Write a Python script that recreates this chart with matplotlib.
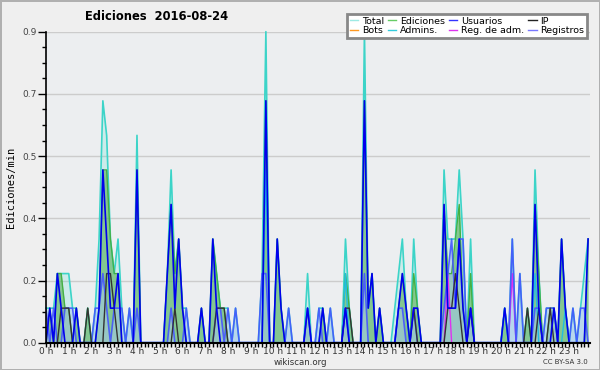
import matplotlib.pyplot as plt
import numpy as np
from matplotlib.lines import Line2D
from matplotlib.ticker import MultipleLocator

# edits per minute, one value every 10 minutes (6 per hour, one row per hour)
total = [
    0.1, 0.1, 0.1, 0.2, 0.2, 0.2,
    0.2, 0.1, 0.1, 0, 0, 0.1,
    0, 0.1, 0.3, 0.7, 0.6, 0.3,
    0.2, 0.3, 0.1, 0, 0.1, 0,
    0.6, 0, 0, 0, 0, 0,
    0, 0, 0.2, 0.5, 0.2, 0.3,
    0.1, 0.1, 0, 0, 0, 0.1,
    0, 0, 0.3, 0.2, 0.1, 0.1,
    0.1, 0, 0.1, 0, 0, 0,
    0, 0, 0, 0.2, 0.9, 0,
    0, 0.3, 0.1, 0, 0.1, 0,
    0, 0, 0, 0.2, 0, 0,
    0.1, 0.1, 0, 0.1, 0, 0,
    0, 0.3, 0.1, 0, 0, 0,
    0.9, 0.1, 0.2, 0, 0.1, 0,
    0, 0, 0.1, 0.2, 0.3, 0.1,
    0, 0.3, 0.1, 0, 0, 0,
    0, 0, 0, 0.5, 0.3, 0.3,
    0.3, 0.5, 0.3, 0, 0.3, 0,
    0, 0, 0, 0, 0, 0,
    0, 0.1, 0, 0.3, 0, 0.2,
    0, 0.1, 0, 0.5, 0.2, 0,
    0.1, 0.1, 0.1, 0, 0.3, 0.1,
    0, 0.1, 0, 0.1, 0.2, 0.3,
]
ediciones = [
    0, 0.1, 0, 0.2, 0.2, 0.1,
    0.1, 0, 0.1, 0, 0, 0.1,
    0, 0, 0.1, 0.5, 0.5, 0.3,
    0.2, 0.2, 0, 0, 0, 0,
    0.5, 0, 0, 0, 0, 0,
    0, 0, 0.2, 0.4, 0.2, 0.3,
    0.1, 0, 0, 0, 0, 0.1,
    0, 0, 0.3, 0.2, 0.1, 0.1,
    0, 0, 0, 0, 0, 0,
    0, 0, 0, 0, 0.7, 0,
    0, 0.3, 0.1, 0, 0, 0,
    0, 0, 0, 0.1, 0, 0,
    0, 0.1, 0, 0, 0, 0,
    0, 0.2, 0.1, 0, 0, 0,
    0.7, 0.1, 0.2, 0, 0.1, 0,
    0, 0, 0, 0.1, 0.2, 0.1,
    0, 0.2, 0.1, 0, 0, 0,
    0, 0, 0, 0.4, 0.2, 0.2,
    0.3, 0.4, 0.1, 0, 0.2, 0,
    0, 0, 0, 0, 0, 0,
    0, 0.1, 0, 0, 0, 0,
    0, 0.1, 0, 0.4, 0.2, 0,
    0, 0.1, 0.1, 0, 0.3, 0.1,
    0, 0, 0, 0, 0, 0.3,
]
usuarios = [
    0, 0.1, 0, 0.2, 0.1, 0,
    0, 0, 0.1, 0, 0, 0,
    0, 0, 0.1, 0.5, 0.3, 0.1,
    0.1, 0.2, 0, 0, 0, 0,
    0.5, 0, 0, 0, 0, 0,
    0, 0, 0.2, 0.4, 0.1, 0.3,
    0.1, 0, 0, 0, 0, 0.1,
    0, 0, 0.3, 0.1, 0, 0,
    0, 0, 0, 0, 0, 0,
    0, 0, 0, 0, 0.7, 0,
    0, 0.3, 0.1, 0, 0, 0,
    0, 0, 0, 0.1, 0, 0,
    0, 0.1, 0, 0, 0, 0,
    0, 0.1, 0, 0, 0, 0,
    0.7, 0.1, 0.2, 0, 0.1, 0,
    0, 0, 0, 0.1, 0.2, 0.1,
    0, 0.1, 0.1, 0, 0, 0,
    0, 0, 0, 0.4, 0.1, 0.1,
    0.1, 0.3, 0.1, 0, 0.1, 0,
    0, 0, 0, 0, 0, 0,
    0, 0.1, 0, 0, 0, 0,
    0, 0, 0, 0.4, 0.1, 0,
    0, 0, 0.1, 0, 0.3, 0.1,
    0, 0, 0, 0, 0, 0.3,
]
ip = [
    0, 0, 0, 0, 0.1, 0.1,
    0.1, 0, 0, 0, 0, 0.1,
    0, 0, 0, 0, 0.2, 0.2,
    0.1, 0, 0, 0, 0, 0,
    0, 0, 0, 0, 0, 0,
    0, 0, 0, 0, 0.1, 0,
    0, 0, 0, 0, 0, 0,
    0, 0, 0, 0.1, 0.1, 0.1,
    0, 0, 0, 0, 0, 0,
    0, 0, 0, 0, 0, 0,
    0, 0, 0, 0, 0, 0,
    0, 0, 0, 0, 0, 0,
    0, 0, 0, 0, 0, 0,
    0, 0.1, 0.1, 0, 0, 0,
    0, 0, 0, 0, 0, 0,
    0, 0, 0, 0, 0, 0,
    0, 0.1, 0, 0, 0, 0,
    0, 0, 0, 0, 0.1, 0.1,
    0.2, 0.1, 0, 0, 0.1, 0,
    0, 0, 0, 0, 0, 0,
    0, 0, 0, 0, 0, 0,
    0, 0.1, 0, 0, 0.1, 0,
    0, 0.1, 0, 0, 0, 0,
    0, 0, 0, 0, 0, 0,
]
registros = [
    0.1, 0, 0.1, 0, 0, 0.1,
    0.1, 0.1, 0, 0, 0, 0,
    0, 0.1, 0.1, 0.2, 0.1, 0,
    0.1, 0.1, 0.1, 0, 0.1, 0,
    0.1, 0, 0, 0, 0, 0,
    0, 0, 0, 0.1, 0, 0,
    0, 0.1, 0, 0, 0, 0,
    0, 0, 0, 0.1, 0.1, 0,
    0.1, 0, 0.1, 0, 0, 0,
    0, 0, 0, 0.2, 0.2, 0,
    0, 0, 0, 0, 0.1, 0,
    0, 0, 0, 0.1, 0, 0,
    0.1, 0, 0, 0.1, 0, 0,
    0, 0.1, 0, 0, 0, 0,
    0.2, 0, 0, 0, 0, 0,
    0, 0, 0, 0.1, 0.1, 0,
    0, 0.1, 0, 0, 0, 0,
    0, 0, 0, 0.1, 0.2, 0.3,
    0.1, 0.3, 0.3, 0, 0.1, 0,
    0, 0, 0, 0, 0, 0,
    0, 0, 0, 0.3, 0, 0.2,
    0, 0, 0, 0.1, 0.1, 0,
    0.1, 0.1, 0.1, 0, 0, 0,
    0, 0.1, 0, 0.1, 0.1, 0,
]
# sparse series: {slot index: value}
admins = {58: 0.5, 79: 0.2, 121: 0.1, 129: 0.2, 137: 0.1}
reg_adm = {106: 0.2, 123: 0.2}
bots = {}

hour_labels = ['%d h' % h for h in range(24)]
y_ticks = [0, 0.18, 0.36, 0.54, 0.72, 0.9]
y_labels = ['0.0', '0.2', '0.4', '0.5', '0.7', '0.9']

x = np.arange(len(total)) / 6.0


def sparse(d):
    v = np.zeros(len(total))
    for k, val in d.items():
        v[k] = val
    return v


fig = plt.figure(figsize=(6, 3.7), dpi=100, facecolor='#efefef')
fig.patch.set_edgecolor('#b0b0b0')
fig.patch.set_linewidth(2)
ax = fig.add_axes([46 / 600, 27.3 / 370, 544 / 600, 311 / 370], facecolor='#eceef0')

for t in y_ticks:
    ax.axhline(t, color='#cccccc', lw=1, zorder=0)

ax.fill_between(x, total, color='#40e0d0', alpha=0.18, lw=0, zorder=1)
ax.fill_between(x, ediciones, color='#55b055', alpha=0.6, lw=0, zorder=2)
ax.fill_between(x, registros, color='#a8c8ee', alpha=0.55, lw=0, zorder=2)

ax.plot(x, total, color='#3cd4c8', lw=1.2, zorder=3, clip_on=False)
ax.plot(x, ediciones, color='#44b044', lw=1, zorder=3)
ax.plot(x, sparse(bots), color='#ff9922', lw=1, zorder=3)
ax.plot(x, sparse(admins), color='#22bde0', lw=1, zorder=4)
ax.plot(x, sparse(reg_adm), color='#e030f0', lw=1, zorder=4)
ax.plot(x, registros, color='#4455ff', lw=1.2, alpha=0.9, zorder=4)
ax.plot(x, ip, color='#333333', lw=1, zorder=5)
ax.plot(x, usuarios, color='#0000ee', lw=1.2, zorder=6)

ax.set_xlim(0, 143.5 / 6)
ax.set_ylim(0, 0.9)
for s in ['top', 'right']:
    ax.spines[s].set_visible(False)
ax.spines['left'].set_linewidth(1.2)
ax.spines['bottom'].set_linewidth(1.5)
ax.spines['left'].set_zorder(10)
ax.spines['bottom'].set_zorder(10)

ax.set_xticks(range(24))
ax.set_xticklabels(hour_labels, fontsize=6.5, color='#333333')
ax.xaxis.set_minor_locator(MultipleLocator(1 / 6))
ax.set_yticks(y_ticks)
ax.set_yticklabels(y_labels, fontsize=6.5, color='#444444')
ax.yaxis.set_minor_locator(MultipleLocator(0.045))
ax.tick_params(axis='x', which='major', length=3, width=1, pad=0)
ax.tick_params(axis='x', which='minor', length=3, width=1)
ax.tick_params(axis='y', which='major', length=6, width=1, pad=1)
ax.tick_params(axis='y', which='minor', length=3, width=1)

ax.set_ylabel('Ediciones/min', fontsize=7.5, family='DejaVu Sans Mono', labelpad=4)

fig.text(85 / 600, 1 - 17 / 370, 'Ediciones  2016-08-24', fontsize=8.3,
         fontweight='bold', ha='left', va='center')
fig.text(300 / 600, 1 - 362.5 / 370, 'wikiscan.org', fontsize=6.2,
         color='#333333', ha='center', va='center')
fig.text(588 / 600, 1 - 362.5 / 370, 'CC BY-SA 3.0', fontsize=5,
         color='#333333', ha='right', va='center')

handles = [
    Line2D([], [], color='#9eeae4', lw=1),
    Line2D([], [], color='#ff9922', lw=1),
    Line2D([], [], color='#66cc66', lw=1),
    Line2D([], [], color='#33ccdd', lw=1),
    Line2D([], [], color='#3333ff', lw=1),
    Line2D([], [], color='#dd33ee', lw=1),
    Line2D([], [], color='#222222', lw=1),
    Line2D([], [], color='#7777ff', lw=1),
]
labels = ['Total', 'Bots', 'Ediciones', 'Admins.', 'Usuarios',
          'Reg. de adm.', 'IP', 'Registros']
leg = fig.legend(handles, labels, ncol=4, loc='upper right',
                 bbox_to_anchor=(592 / 600, 1 - 9 / 370), fontsize=6.8,
                 frameon=True, fancybox=False, handlelength=0.9,
                 handletextpad=0.4, columnspacing=0.4, labelspacing=0.05,
                 borderpad=0.3)
leg.get_frame().set_edgecolor('#888888')
leg.get_frame().set_linewidth(2)
leg.get_frame().set_facecolor('white')
leg.get_frame().set_alpha(1)

fig.savefig('out.png', dpi=100, facecolor=fig.get_facecolor(),
            edgecolor=fig.get_edgecolor())
